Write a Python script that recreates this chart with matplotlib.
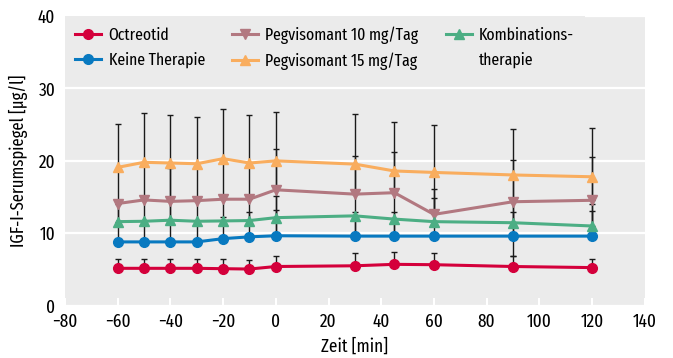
import numpy as np
import matplotlib
matplotlib.use("Agg")
import matplotlib.pyplot as plt

# Zeitpunkte [min]
zeit = [-60, -50, -40, -30, -20, -10, 0, 30, 45, 60, 90, 120]

# Mittelwerte IGF-I [µg/l]
octreotid = [5.15, 5.15, 5.15, 5.15, 5.1, 5.05, 5.4, 5.5, 5.7, 5.65, 5.4, 5.25]
keine = [8.8, 8.8, 8.8, 8.8, 9.25, 9.5, 9.65, 9.6, 9.6, 9.6, 9.6, 9.6]
kombi = [11.6, 11.65, 11.8, 11.65, 11.7, 11.75, 12.15, 12.4, 11.95, 11.6, 11.45, 11.0]
peg10 = [14.1, 14.6, 14.4, 14.5, 14.7, 14.7, 16.0, 15.4, 15.6, 12.6, 14.35, 14.55]
peg15 = [19.1, 19.8, 19.7, 19.6, 20.3, 19.7, 20.0, 19.55, 18.6, 18.4, 18.05, 17.8]

# Fehlerbalken-Enden (nan = kein Balken)
n = np.nan
octreotid_hi = [6.5, 6.5, 6.4, 6.4, 6.4, 6.3, 6.9, 7.2, 7.4, 7.2, 6.9, 6.5]
keine_hi = [n, n, n, n, n, n, 13.2, 13.0, 13.0, n, 13.0, 13.1]
kombi_hi = [14.6, n, 14.7, n, 12.2, 12.9, 15.1, n, n, 14.8, 14.8, 14.05]
peg10_hi = [n, n, 19.0, n, n, n, 21.7, 20.7, 21.2, 16.1, 20.1, 20.5]
peg15_hi = [25.1, 26.6, 26.4, 26.1, 27.2, 26.3, 26.7, 26.5, 25.3, 25.0, 24.4, 24.5]
peg15_lo = [8.8, 8.8, 8.8, 8.8, 9.25, 9.5, 9.65, 9.6, 9.6, 9.6, 6.9, 9.6]

names = ["Octreotid", "Keine Therapie", "Pegvisomant 10 mg/Tag",
         "Pegvisomant 15 mg/Tag", "Kombinations-"]
name_extra = "therapie"
colors = ["#d4003b", "#0879c0", "#b27880", "#f9ad5e", "#4cae84"]
markers = ["o", "o", "v", "^", "^"]

plt.rcParams["font.family"] = ["Fira Sans Extra Condensed", "Roboto Condensed", "DejaVu Sans"]
plt.rcParams["font.size"] = 12

bg = "#ebebeb"
fig = plt.figure(figsize=(6.73, 3.58), dpi=100)
ax = fig.add_axes([0.0966, 0.1464, 0.8614, 0.8086])
ax.set_facecolor(bg)


def err(y, hi, lo=None):
    y = np.array(y)
    up = np.array(hi) - y
    down = np.zeros_like(y) if lo is None else y - np.array(lo)
    return [down, up]


series = [(octreotid, octreotid_hi, None), (keine, keine_hi, None),
          (peg10, peg10_hi, None), (peg15, peg15_hi, peg15_lo),
          (kombi, kombi_hi, None)]
for y, hi, lo in series:
    ax.errorbar(zeit, y, yerr=err(y, hi, lo), fmt="none", ecolor="#1a1a1a",
                elinewidth=1.0, capsize=2.4, capthick=1.0, zorder=2)

data = [octreotid, keine, peg10, peg15, kombi]
for i in range(5):
    ax.plot(zeit, data[i], color=colors[i], marker=markers[i], lw=2.2,
            ms=7.5 if markers[i] != "o" else 7, label=names[i], zorder=3)

ax.set_xlim(-80, 140)
ax.set_ylim(0, 40)
ax.set_xticks(range(-80, 141, 20))
ax.set_yticks([0, 10, 20, 30, 40])
ax.yaxis.grid(True, color="white", lw=1.6)
ax.set_axisbelow(True)
for s in ax.spines.values():
    s.set_visible(False)
ax.tick_params(axis="x", direction="in", color="white", length=6, width=1.5,
               pad=5, labelsize=13.5)
ax.tick_params(axis="y", length=0, pad=7, labelsize=13.5)
ax.set_xlabel("Zeit [min]", fontsize=13.5, labelpad=5)
ax.set_ylabel("IGF-I-Serumspiegel [µg/l]", fontsize=13, labelpad=7)

h, l = ax.get_legend_handles_labels()
leg = ax.legend(h, l, ncol=3, loc="upper left", bbox_to_anchor=(0.0, 1.0),
                frameon=True, facecolor=bg, edgecolor="none", framealpha=1,
                fontsize=12.3, handlelength=1.5, handletextpad=0.45,
                columnspacing=1.6, labelspacing=0.5, borderpad=0.6,
                borderaxespad=0, fancybox=False)
leg.set_zorder(5)

# zweite Zeile des letzten Eintrags unter "Kombinations-"
fig.canvas.draw()
r = fig.canvas.get_renderer()
t = leg.get_texts()
dy = t[0].get_window_extent(r).y0 - t[1].get_window_extent(r).y0
x0, y0 = t[4].get_transform().transform(t[4].get_position())
fig.text(t[4].get_window_extent(r).x0, y0 - dy, name_extra, transform=None,
         fontsize=12.3, va="baseline", ha="left", zorder=6)

fig.savefig("out.png", dpi=100)
